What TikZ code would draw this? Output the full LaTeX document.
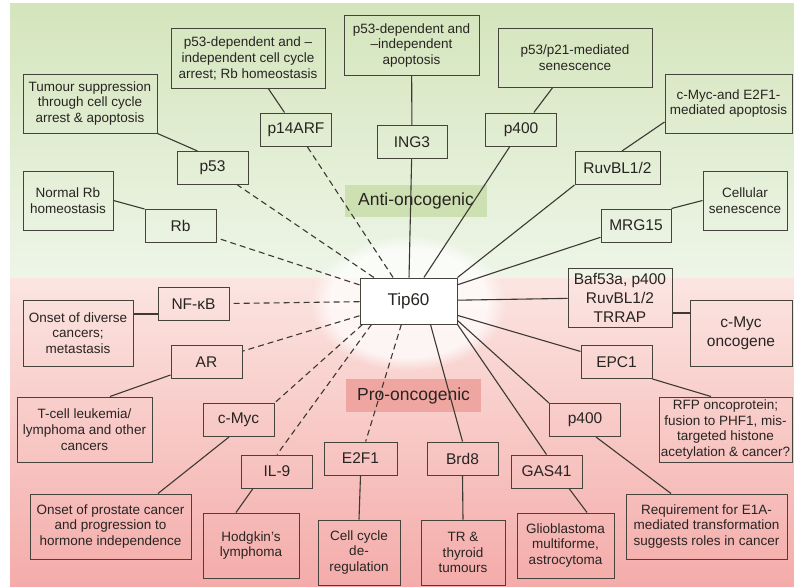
\documentclass[tikz,border=0pt]{standalone}
\usepackage{fontspec}
\setmainfont{Liberation Sans}
\usetikzlibrary{fadings}
\definecolor{antitop}{RGB}{212,229,188}
\definecolor{antibot}{RGB}{238,245,232}
\definecolor{protop}{RGB}{251,229,225}
\definecolor{probot}{RGB}{244,172,170}
\definecolor{antilab}{RGB}{205,224,178}
\definecolor{prolab}{RGB}{240,166,160}
\definecolor{edge}{RGB}{70,66,60}
\definecolor{ink}{RGB}{40,36,34}
\tikzset{
  gene/.style={draw=edge, line width=1pt, text=ink, minimum width=71pt, minimum height=33pt,
    inner sep=1pt, font=\fontsize{15.5}{19}\selectfont},
  role/.style={draw=edge, line width=1pt, text=ink, align=center, inner sep=1pt,
    font=\fontsize{13.5}{15.7}\selectfont},
  side/.style={inner sep=0pt, text=ink, font=\fontsize{17.5}{20}\selectfont},
  link/.style={draw=edge!85!black, line width=1.1pt},
  dlink/.style={link, dash pattern=on 6pt off 4pt},
}
\begin{document}
\begin{tikzpicture}[x=1pt,y=-1pt]
      \useasboundingbox (0,0) rectangle (794,586);
      % background
      \shade[top color=antitop, bottom color=antibot] (10,4) rectangle (794,278);
      \shade[top color=protop, bottom color=probot] (10,278) rectangle (794,586);
      \fill[white, opacity=0.75, path fading=circle with fuzzy edge 20 percent] (408,303) ellipse (98 and 68);
      \node[side, fill=antilab, minimum width=142pt, minimum height=32pt] (anti) at (416,201) {Anti-oncogenic};
      \node[side, fill=prolab, minimum width=135pt, minimum height=33pt] (pro) at (413.5,395.5) {Pro-oncogenic};
      % hub
      \node[gene, fill=white, minimum width=97pt, minimum height=46pt, font=\fontsize{17}{20}\selectfont] (tip) at (408.5,301) {Tip60};
      % anti-oncogenic partners
      \node[gene] (p14) at (296,129.5) {p14ARF};
      \node[gene] (p53) at (212.5,168) {p53};
      \node[gene] (rb) at (180.5,226) {Rb};
      \node[gene, minimum width=70pt] (ing3) at (412,142) {ING3};
      \node[gene] (p400a) at (521,129.5) {p400};
      \node[gene, minimum width=85pt] (ruvbl) at (617.5,168) {RuvBL1/2};
      \node[gene, minimum width=70pt] (mrg) at (636,225.5) {MRG15};
      % pro-oncogenic partners
      \node[gene] (nfkb) at (193.5,304) {NF-κB};
      \node[gene] (ar) at (206.5,362) {AR};
      \node[gene] (cmyc) at (238.5,420) {c-Myc};
      \node[gene] (il9) at (277,471.5) {IL-9};
      \node[gene, minimum width=73pt] (e2f1) at (360.5,458.5) {E2F1};
      \node[gene] (brd8) at (462.5,458.5) {Brd8};
      \node[gene] (gas41) at (546.5,471.5) {GAS41};
      \node[gene] (p400b) at (585,420) {p400};
      \node[gene] (epc1) at (616.5,362) {EPC1};
      \node[gene, align=center, minimum width=104pt, minimum height=59pt] (baf) at (620,297.5) {Baf53a, p400\\RuvBL1/2\\TRRAP};
      % roles
      \node[role, minimum width=154pt, minimum height=59pt] (p14role) at (248,58.5) {p53-dependent and –\\independent cell cycle\\arrest; Rb homeostasis};
      \node[role, minimum width=134pt, minimum height=59pt] (p53role) at (90,103.5) {Tumour suppression\\through cell cycle\\arrest \& apoptosis};
      \node[role, minimum width=90pt, minimum height=59pt] (rbrole) at (68,200.5) {Normal Rb\\homeostasis};
      \node[role, minimum width=135pt, minimum height=59pt] (ing3role) at (411.5,45.5) {p53-dependent and\\–independent\\apoptosis};
      \node[role, minimum width=154pt, minimum height=58pt] (p400arole) at (575,58) {p53/p21-mediated\\senescence};
      \node[role, minimum width=127pt, minimum height=59pt] (ruvblrole) at (728.5,103.5) {c-Myc-and E2F1-\\mediated apoptosis};
      \node[role, minimum width=84pt, minimum height=59pt] (mrgrole) at (745,200.5) {Cellular\\senescence};
      \node[role, minimum width=110pt, minimum height=66pt] (nfkbrole) at (78,333) {Onset of diverse\\cancers;\\metastasis};
      \node[role, minimum width=135pt, minimum height=65pt] (arrole) at (84.5,429.5) {T-cell leukemia/\\lymphoma and other\\cancers};
      \node[role, minimum width=161pt, minimum height=65pt] (cmycrole) at (110.5,526.5) {Onset of prostate cancer\\and progression to\\hormone independence};
      \node[role, minimum width=96pt, minimum height=65pt] (il9role) at (251,545.5) {Hodgkin’s\\lymphoma};
      \node[role, minimum width=82pt, minimum height=65pt] (e2f1role) at (359,552.5) {Cell cycle\\de-\\regulation};
      \node[role, minimum width=84pt, minimum height=65pt] (brd8role) at (463,552.5) {TR \&\\thyroid\\tumours};
      \node[role, minimum width=97pt, minimum height=65pt] (gas41role) at (565.5,545.5) {Glioblastoma\\multiforme,\\astrocytoma};
      \node[role, minimum width=161pt, minimum height=65pt] (p400brole) at (706.5,526.5) {Requirement for E1A-\\mediated transformation\\suggests roles in cancer};
      \node[role, minimum width=133pt, minimum height=65pt] (epc1role) at (725.5,429.5) {RFP oncoprotein;\\fusion to PHF1, mis-\\targeted histone\\acetylation \& cancer?};
      \node[role, minimum width=102pt, minimum height=66pt, font=\fontsize{15.5}{19}\selectfont] (bafrole) at (741,333) {c-Myc\\oncogene};
      % hub links
      \draw[dlink] (tip) -- (p14);
      \draw[dlink] (tip) -- (p53);
      \draw[dlink] (tip) -- (rb);
      \draw[dlink] (tip) -- (nfkb);
      \draw[dlink] (tip) -- (ar);
      \draw[dlink] ([xshift=3pt]tip.south west) -- (cmyc.north east);
      \draw[dlink] ([xshift=12pt]tip.south west) -- (il9.north);
      \draw[dlink] (tip) -- (e2f1);
      \draw[link] (tip) -- (ing3);
      \draw[link] (tip) -- (p400a);
      \draw[link] (tip.north east) -- (ruvbl.south west);
      \draw[link] (tip) -- (mrg);
      \draw[link] (tip) -- (baf);
      \draw[link] (tip) -- (epc1);
      \draw[link] ([yshift=4pt]tip.south east) -- (p400b.north west);
      \draw[link] (tip.south east) -- (gas41.north);
      \draw[link] ([xshift=-27pt]tip.south east) -- (brd8.north);
      % role links
      \draw[link] (p14role) -- (p14);
      \draw[link] (p53role.south east) -- ([xshift=-15pt]p53.north);
      \draw[link] (rbrole.east) -- (rb.north west);
      \draw[link] (ing3role) -- (ing3);
      \draw[link] (p400arole) -- (p400a);
      \draw[link] ([yshift=-18.5pt]ruvblrole.west) -- ([xshift=4.5pt]ruvbl.north);
      \draw[link] (mrgrole.west) -- (mrg.north east);
      \draw[link] ([yshift=-10pt]nfkb.west) -- ([yshift=-10pt]nfkb.west -| nfkbrole.east);
      \draw[link] ([yshift=-13pt]ar.west) -- ([xshift=25.5pt]arrole.north);
      \draw[link] ([xshift=-9.5pt]cmyc.south) -- ([xshift=47.5pt]cmycrole.north);
      \draw[link] ([xshift=-24pt]il9.south) -- ([xshift=-15pt]il9role.north);
      \draw[link] (e2f1.south) -- (e2f1role.north);
      \draw[link] (brd8.south) -- (brd8role.north);
      \draw[link] ([xshift=22.5pt]gas41.south) -- ([xshift=21.5pt]gas41role.north);
      \draw[link] ([xshift=11pt]p400b.south) -- ([xshift=-35.5pt]p400brole.north);
      \draw[link] (epc1.south east) -- ([xshift=-14.5pt]epc1role.north);
      \draw[link] ([yshift=-15.5pt]baf.east) -- ([yshift=-15.5pt]baf.east -| bafrole.west);
    \end{tikzpicture}
\end{document}
